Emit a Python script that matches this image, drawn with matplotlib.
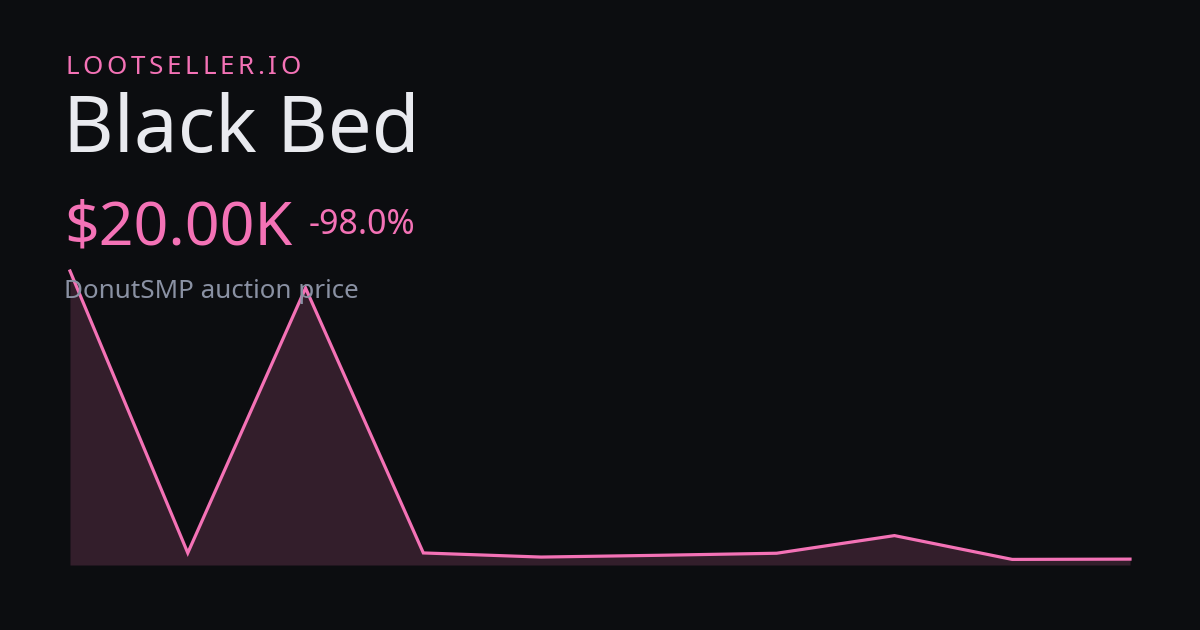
import numpy as np
import matplotlib
matplotlib.use("Agg")
import matplotlib.pyplot as plt

# price history (DonutSMP auction), oldest -> newest
prices = [1000000, 41000, 942000, 41000, 27000, 33000, 40000, 100000, 19000, 20000]
brand = "LOOTSELLER.IO"
item = "Black Bed"
price_label = "$20.00K"
change_label = "-98.0%"
sub_label = "DonutSMP auction price"

BG = "#0c0d10"
PINK = "#f472b6"
WHITE = "#e9eaef"
GREY = "#8a91a3"

W, H = 1200, 630
plt.rcParams['font.family'] = ['Noto Sans', 'DejaVu Sans']

fig = plt.figure(figsize=(W / 100, H / 100), dpi=100, facecolor=BG)

def px(x, y):
    return x / W, 1 - y / H

# chart area
ax = fig.add_axes([70 / W, (H - 565) / H, 1060 / W, 294 / H])
ax.set_facecolor(BG)
x = np.arange(len(prices))
ax.fill_between(x, prices, 0, color=PINK, alpha=0.17, lw=0)
ax.plot(x, prices, color=PINK, lw=2.3, clip_on=False, solid_joinstyle='miter')
ax.set_xlim(0, len(prices) - 1)
ax.set_ylim(0, max(prices))
ax.axis('off')

fig.canvas.draw()
r = fig.canvas.get_renderer()

# brand with letter spacing, one char at a time
cx = 65
for ch in brand:
    t = fig.text(*px(cx, 74), ch, color=PINK, fontsize=26 * 0.72, va='baseline')
    w = t.get_window_extent(renderer=r).width
    cx += w + 3.7

fig.text(*px(63, 152), item, color=WHITE, fontsize=78 * 0.72, va='baseline')
fig.text(*px(64, 245), price_label, color=PINK, fontsize=61 * 0.72, va='baseline')
fig.text(*px(309, 234), change_label, color=PINK, fontsize=34 * 0.72, va='baseline')
fig.text(*px(64, 298), sub_label, color=GREY, fontsize=26 * 0.72, va='baseline')

fig.savefig("out.png", dpi=100, facecolor=BG)
